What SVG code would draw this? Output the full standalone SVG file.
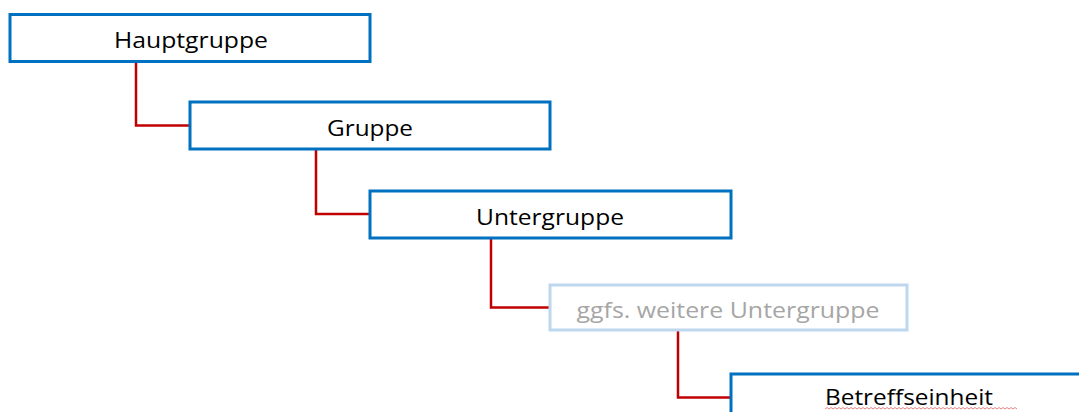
<svg xmlns="http://www.w3.org/2000/svg" width="1079" height="412" viewBox="0 0 1079 412">
<style>
.box{fill:#ffffff;stroke:#0070c0;stroke-width:3}
.boxlight{fill:#ffffff;stroke:#bdd7ee;stroke-width:3}
.lbl{font-family:"Open Sans","Noto Sans",sans-serif;font-size:22px;fill:#000000;text-anchor:middle}
.lbllight{fill:#a6a6a6}
.conn{fill:none;stroke:#c00000;stroke-width:2.5}
</style>
<rect width="1079" height="412" fill="#ffffff"/>
<g id="connectors">
<path class="conn" d="M136 62 V125.5 H190"/>
<path class="conn" d="M316 150 V214 H370"/>
<path class="conn" d="M491 239 V307.5 H550"/>
<path class="conn" d="M678 331 V397.5 H731"/>
</g>
<g id="hauptgruppe">
<rect class="box" x="10" y="14.5" width="360" height="47"/>
<text class="lbl" x="191" y="48" textLength="154" lengthAdjust="spacingAndGlyphs">Hauptgruppe</text>
</g>
<g id="gruppe">
<rect class="box" x="190" y="102" width="360" height="47"/>
<text class="lbl" x="370" y="136" textLength="86" lengthAdjust="spacingAndGlyphs">Gruppe</text>
</g>
<g id="untergruppe">
<rect class="box" x="370" y="191" width="361" height="47"/>
<text class="lbl" x="550" y="225" textLength="148" lengthAdjust="spacingAndGlyphs">Untergruppe</text>
</g>
<g id="weitere">
<rect class="boxlight" x="550" y="285" width="357" height="45"/>
<text class="lbl lbllight" x="728" y="318" textLength="303" lengthAdjust="spacingAndGlyphs">ggfs. weitere Untergruppe</text>
</g>
<g id="betreffseinheit">
<rect class="box" x="731" y="374" width="360" height="47"/>
<text class="lbl" x="909" y="405" textLength="168" lengthAdjust="spacingAndGlyphs">Betreffseinheit</text>
<path d="M825 409 l2 -1.5 l2 1.5 l2 -1.5 l2 1.5 l2 -1.5 l2 1.5 l2 -1.5 l2 1.5 l2 -1.5 l2 1.5 l2 -1.5 l2 1.5 l2 -1.5 l2 1.5 l2 -1.5 l2 1.5 l2 -1.5 l2 1.5 l2 -1.5 l2 1.5 l2 -1.5 l2 1.5 l2 -1.5 l2 1.5 l2 -1.5 l2 1.5 l2 -1.5 l2 1.5 l2 -1.5 l2 1.5 l2 -1.5 l2 1.5 l2 -1.5 l2 1.5 l2 -1.5 l2 1.5 l2 -1.5 l2 1.5 l2 -1.5 l2 1.5 l2 -1.5 l2 1.5 l2 -1.5 l2 1.5 l2 -1.5 l2 1.5 l2 -1.5 l2 1.5 l2 -1.5 l2 1.5 l2 -1.5 l2 1.5 l2 -1.5 l2 1.5 l2 -1.5 l2 1.5 l2 -1.5 l2 1.5 l2 -1.5 l2 1.5 l2 -1.5 l2 1.5 l2 -1.5 l2 1.5 l2 -1.5 l2 1.5 l2 -1.5 l2 1.5 l2 -1.5 l2 1.5 l2 -1.5 l2 1.5 l2 -1.5 l2 1.5 l2 -1.5 l2 1.5 l2 -1.5 l2 1.5 l2 -1.5 l2 1.5 l2 -1.5 l2 1.5 l2 -1.5 l2 1.5 l2 -1.5 l2 1.5 l2 -1.5 l2 1.5 l2 -1.5 l2 1.5 l2 -1.5 l2 1.5 l2 -1.5 l2 1.5 l2 -1.5 l2 1.5" fill="none" stroke="#e06666" stroke-width="0.8"/>
</g>
</svg>
